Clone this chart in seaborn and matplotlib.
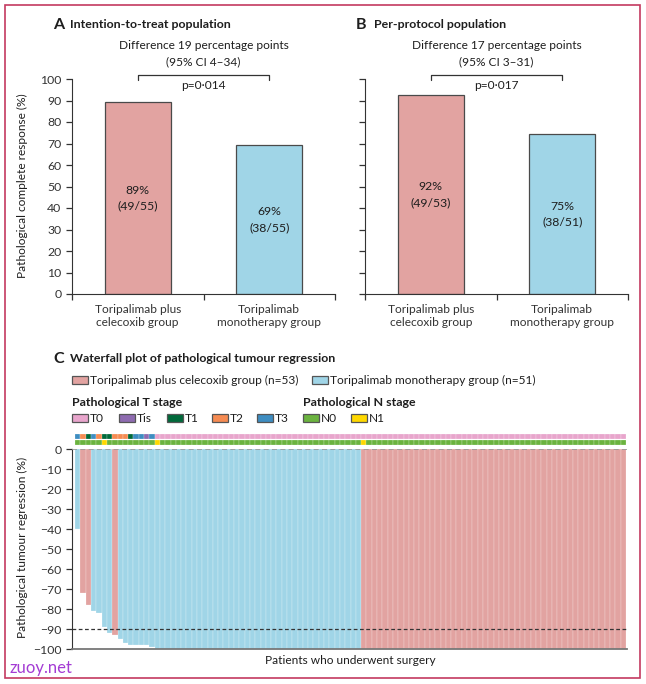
import numpy as np
import pandas as pd
import seaborn as sns
import matplotlib.pyplot as plt
from matplotlib.patches import Rectangle

# panel A/B data
groups = ["Toripalimab plus\ncelecoxib group", "Toripalimab\nmonotherapy group"]
itt_values = [89.1, 69.1]
itt_pct = ["89%", "69%"]
itt_frac = ["(49/55)", "(38/55)"]
pp_values = [92.5, 74.5]
pp_pct = ["92%", "75%"]
pp_frac = ["(49/53)", "(38/51)"]

# panel C data, one entry per patient (left to right)
regression = [
    -40, -72, -78, -81, -82, -89, -92, -93, -95, -97,
    -98, -98, -98, -98, -99, -100, -100, -100, -100, -100,
    -100, -100, -100, -100, -100, -100, -100, -100, -100, -100,
    -100, -100, -100, -100, -100, -100, -100, -100, -100, -100,
    -100, -100, -100, -100, -100, -100, -100, -100, -100, -100,
    -100, -100, -100, -100, -100, -100, -100, -100, -100, -100,
    -100, -100, -100, -100, -100, -100, -100, -100, -100, -100,
    -100, -100, -100, -100, -100, -100, -100, -100, -100, -100,
    -100, -100, -100, -100, -100, -100, -100, -100, -100, -100,
    -100, -100, -100, -100, -100, -100, -100, -100, -100, -100,
    -100, -100, -100, -100,
]
# C = toripalimab plus celecoxib, M = monotherapy
arm_code = ("MCCMMMMCMM" "MMMMMMMMMM" "MMMMMMMMMM" "MMMMMMMMMM" "MMMMMMMMMM"
            "MMMMCCCCCC" "CCCCCCCCCC" "CCCCCCCCCC" "CCCCCCCCCC" "CCCCCCCCCC" "CCCC")
# T stage: 0=T0, s=Tis, 1=T1, 2=T2, 3=T3
t_code = ("3213211222" "133s300000" "0000000000" "0000000000" "0000000000"
          "0000000000" "0000000000" "0000000000" "0000000000" "0000000000" "0000")
# N stage: 0=N0, 1=N1
n_code = ("0000010000" "0000010000" "0000000000" "0000000000" "0000000000"
          "0000100000" "0000000000" "0000000000" "0000000000" "0000000000" "0000")

red = "#e2a3a1"
blue = "#a0d5e7"
edge = "#4a4a4a"
t_colors = {"0": "#e8a5cc", "s": "#8e6bb0", "1": "#00693a", "2": "#f68b52", "3": "#3e8dc1"}
n_colors = {"0": "#6bb33f", "1": "#ffd800"}

sns.set_style("ticks")
plt.rcParams['font.family'] = ['Lato', 'DejaVu Sans']
plt.rcParams['axes.edgecolor'] = '#333333'
plt.rcParams['xtick.color'] = '#333333'
plt.rcParams['ytick.color'] = '#333333'
plt.rcParams['text.color'] = '#1e1e1e'

W, H = 646, 684
fig = plt.figure(figsize=(W / 100, H / 100), dpi=100)


def box(l, t, r, b):
    return [l / W, 1 - b / H, (r - l) / W, (b - t) / H]


def ftext(x, y, s, **kw):
    fig.text(x / W, 1 - y / H, s, **kw)


def key(x, y, color, label):
    fig.patches.append(Rectangle((x / W, 1 - (y + 4) / H), 16 / W, 8 / H,
                                 transform=fig.transFigure, facecolor=color,
                                 edgecolor='#555555', lw=0.9))
    ftext(x + 18, y, label, va='center', fontsize=8.6)


def response_panel(ax, values, pct, frac, diff, ci, p, show_y):
    df = pd.DataFrame({"group": groups, "value": values})
    sns.barplot(data=df, x="group", y="value", hue="group", palette=[red, blue],
                saturation=1, width=0.5, edgecolor=edge, linewidth=0.9,
                legend=False, ax=ax)
    ax.set_xlim(-0.5, 1.5)
    ax.set_ylim(0, 100)
    ax.set_yticks(range(0, 101, 10))
    if not show_y:
        ax.set_yticklabels([])
    ax.set_xticks([0, 1], groups)
    ax.set_xticks([-0.5, 0.5, 1.5], minor=True)
    ax.tick_params(axis='x', which='major', length=0, pad=7, labelsize=8.6)
    ax.tick_params(axis='x', which='minor', length=4, width=0.9)
    ax.tick_params(axis='y', length=4, width=0.9, labelsize=8.8)
    for lab in ax.get_xticklabels():
        lab.set_linespacing(1.3)
    ax.set_xlabel("")
    ax.set_ylabel("")
    sns.despine(ax=ax)
    for i, v in enumerate(values):
        ax.text(i, v / 2, f"{pct[i]}\n{frac[i]}", ha='center', va='center',
                fontsize=8.8, linespacing=1.5)
    ax.plot([0, 0, 1, 1], [99.5, 101.8, 101.8, 99.5], color='#333333', lw=0.9, clip_on=False)
    ax.text(0.5, 96.8, p, ha='center', va='center', fontsize=8.6)
    ax.text(0.5, 115.8, diff, ha='center', va='center', fontsize=8.6, clip_on=False)
    ax.text(0.5, 108, ci, ha='center', va='center', fontsize=8.6, clip_on=False)


ax_a = fig.add_axes(box(72, 79, 335, 294))
response_panel(ax_a, itt_values, itt_pct, itt_frac,
               "Difference 19 percentage points", "(95% CI 4\u201334)", "p=0\u00b7014", True)
ax_b = fig.add_axes(box(365, 79, 628, 294))
response_panel(ax_b, pp_values, pp_pct, pp_frac,
               "Difference 17 percentage points", "(95% CI 3\u201331)", "p=0\u00b7017", False)

ftext(22, 186, "Pathological complete response (%)", rotation=90, ha='center', va='center', fontsize=8.6)
ftext(53, 25, "A", fontsize=11.5, fontweight='bold', va='center')
ftext(70, 25, "Intention-to-treat population", fontsize=8.9, fontweight='bold', va='center')
ftext(356, 25, "B", fontsize=11.5, fontweight='bold', va='center')
ftext(374, 25, "Per-protocol population", fontsize=8.9, fontweight='bold', va='center')

# panel C waterfall
ax_c = fig.add_axes(box(72, 449, 627, 649))
wf = pd.DataFrame({
    "patient": np.arange(len(regression)),
    "regression": regression,
    "arm": [a for a in arm_code],
})
sns.barplot(data=wf, x="patient", y="regression", hue="arm",
            palette={"C": red, "M": blue}, saturation=1, dodge=False, width=1.0,
            edgecolor='white', linewidth=0.15, legend=False, ax=ax_c)
ax_c.set_xlim(-1.1, len(regression) - 0.3)
ax_c.set_ylim(-100, 0)
ax_c.set_yticks(range(-100, 1, 10))
ax_c.set_xticks([])
ax_c.tick_params(axis='y', length=4, width=0.9, labelsize=8.8)
ax_c.set_xlabel("")
ax_c.set_ylabel("")
sns.despine(ax=ax_c)
ax_c.spines['bottom'].set_color('#777777')
ax_c.spines['bottom'].set_linewidth(1.3)
ax_c.axhline(0, color='#999999', lw=1.2, ls=(0, (3, 2)), zorder=5)
ax_c.axhline(-90, color='#333333', lw=0.9, ls=(0, (3, 2)), zorder=5)

ax_s = fig.add_axes(box(72, 433, 627, 445), sharex=ax_c)
pos = np.arange(len(regression))
ax_s.bar(pos, 5, bottom=6.5, width=1.0, color=[t_colors[c] for c in t_code],
         edgecolor='white', linewidth=0.15)
ax_s.bar(pos, 5, bottom=0, width=1.0, color=[n_colors[c] for c in n_code],
         edgecolor='white', linewidth=0.15)
ax_s.set_ylim(0, 12)
ax_s.axis('off')

ftext(22, 547, "Pathological tumour regression (%)", rotation=90, ha='center', va='center', fontsize=8.6)
ftext(350, 661, "Patients who underwent surgery", ha='center', va='center', fontsize=8.6)

ftext(53, 359, "C", fontsize=11.5, fontweight='bold', va='center')
ftext(70, 359, "Waterfall plot of pathological tumour regression", fontsize=8.9, fontweight='bold', va='center')
key(72, 380, red, "Toripalimab plus celecoxib group (n=53)")
key(312, 380, blue, "Toripalimab monotherapy group (n=51)")
ftext(72, 402, "Pathological T stage", fontsize=8.9, fontweight='bold', va='center')
ftext(303, 402, "Pathological N stage", fontsize=8.9, fontweight='bold', va='center')
key(72, 418, t_colors["0"], "T0")
key(119, 418, t_colors["s"], "Tis")
key(167, 418, t_colors["1"], "T1")
key(212, 418, t_colors["2"], "T2")
key(257, 418, t_colors["3"], "T3")
key(303, 418, n_colors["0"], "N0")
key(351, 418, n_colors["1"], "N1")

# outer frame and watermark
fig.patches.append(Rectangle((5 / W, 1 - 678 / H), 635 / W, 673 / H, transform=fig.transFigure,
                             fill=False, edgecolor='#c43a60', lw=1.2))
ftext(10, 668, "zuoy.net", fontsize=12, color='#a43cd4', va='center')

fig.savefig("out.png", dpi=100)
